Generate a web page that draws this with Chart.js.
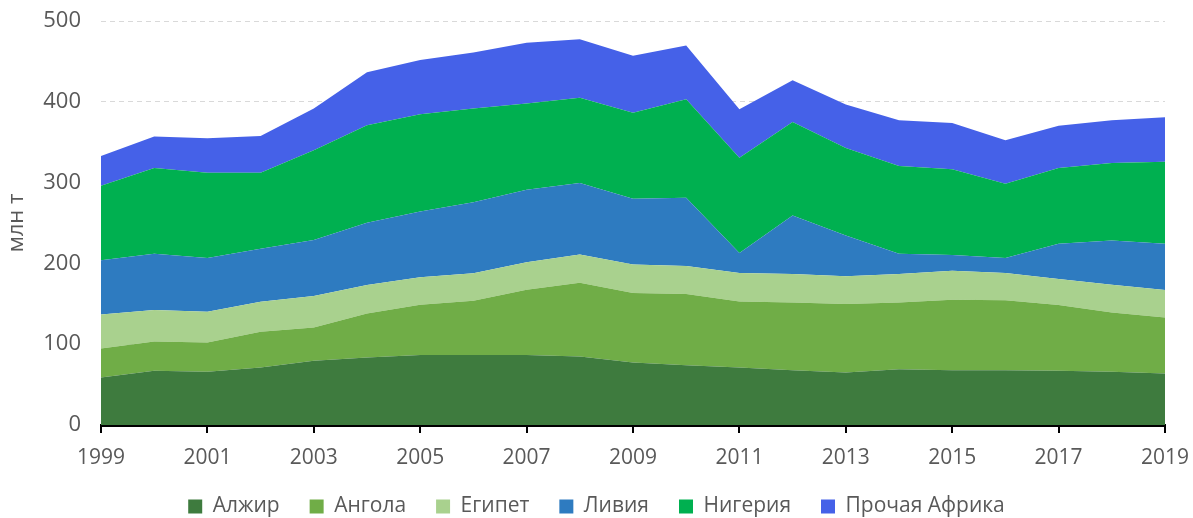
<!DOCTYPE html>
<html>
<head>
<meta charset="utf-8">
<script src="https://cdn.jsdelivr.net/npm/chart.js@4"></script>
<style>
  html, body { margin: 0; padding: 0; background: #fff; }
  #wrap { width: 1193px; height: 518px; }
</style>
</head>
<body>
<div id="wrap"><canvas id="chart" width="1193" height="518"></canvas></div>
<script>
const years = [1999, 2000, 2001, 2002, 2003, 2004, 2005, 2006, 2007, 2008, 2009,
  2010, 2011, 2012, 2013, 2014, 2015, 2016, 2017, 2018, 2019];

const seriesNames = ["Алжир", "Ангола", "Египет", "Ливия", "Нигерия", "Прочая Африка"];

const algeria = [58.7, 67, 65.8, 71.1, 79.4, 83.5, 86.5, 86.5, 86.5, 84.8, 77.3,
  74, 71.1, 67.9, 64.9, 69.1, 67.9, 67.9, 67, 65.8, 63.6];
const angola = [36, 36.4, 36.2, 44.3, 41.3, 54.5, 62.4, 67.3, 81, 91.4, 86.1,
  88.1, 81.9, 83.8, 84.8, 82.6, 87.2, 86.4, 81.5, 73.5, 69.5];
const egypt = [42.2, 38.9, 38.2, 37.2, 39, 35.3, 33.9, 33.9, 33.9, 34.7, 35.1,
  34.8, 35.2, 35.3, 34.3, 35.3, 35.9, 33.9, 32.3, 34.4, 34];
const libya = [67, 69.5, 66.6, 65.4, 69.3, 76.9, 81.5, 88.1, 89.8, 88.5, 81.5,
  84.4, 24.8, 72.3, 50.5, 24.8, 19.5, 18.6, 43.4, 54.6, 57.1];
const nigeria = [92.1, 106.2, 105.5, 94.3, 111, 120.8, 120.3, 115.9, 106.7, 105.5, 106.3,
  121.9, 117.9, 115.7, 108.3, 108.7, 105.9, 91.8, 93.8, 95.9, 101.7];
const otherAfrica = [37, 39, 42.5, 45.4, 51.7, 65.7, 67, 69.3, 75.1, 72.4, 70.7,
  66.6, 59.9, 51.8, 53.8, 56.7, 57.4, 53.8, 52.3, 53, 55.1];

const yTicks = { min: 0, max: 500, step: 100 };
const colors = ["#3E7B3E", "#70AD47", "#A9D18E", "#2E7BC0", "#00B050", "#4561E8"];
const textColor = "#595959";
const fontFamily = "'Open Sans', 'Noto Sans', sans-serif";

const allSeries = [algeria, angola, egypt, libya, nigeria, otherAfrica];

new Chart(document.getElementById("chart"), {
  type: "line",
  data: {
    datasets: allSeries.map((values, i) => ({
      label: seriesNames[i],
      data: values.map((v, j) => ({ x: years[j], y: v })),
      backgroundColor: colors[i],
      borderColor: colors[i],
      borderWidth: 0,
      pointRadius: 0,
      fill: i === 0 ? "origin" : "-1",
      tension: 0,
    })),
  },
  options: {
    responsive: false,
    animation: false,
    layout: { padding: { top: 21, right: 0, left: 0, bottom: -9 } },
    plugins: {
      legend: {
        position: "bottom",
        labels: {
          boxWidth: 14,
          boxHeight: 14,
          padding: 30,
          color: textColor,
          font: { family: fontFamily, size: 21 },
        },
      },
      tooltip: { enabled: false },
    },
    scales: {
      x: {
        type: "linear",
        min: years[0],
        max: years[years.length - 1],
        afterFit: (scale) => {
          scale.height = 41;
          scale.paddingRight = 28;
        },
        ticks: {
          stepSize: 2,
          color: textColor,
          padding: 12,
          font: { family: fontFamily, size: 21 },
          callback: (v) => String(v),
        },
        grid: {
          drawOnChartArea: false,
          drawTicks: true,
          tickLength: 8,
          color: "#000",
          lineWidth: 2,
        },
        border: { display: true, color: "#000", width: 3 },
      },
      y: {
        stacked: true,
        min: yTicks.min,
        max: yTicks.max,
        afterFit: (scale) => {
          scale.width = 101;
          scale.paddingTop = 0;
          scale.paddingBottom = 0;
        },
        ticks: {
          stepSize: yTicks.step,
          color: textColor,
          padding: 20,
          font: { family: fontFamily, size: 22 },
        },
        grid: {
          color: "#d9d9d9",
          lineWidth: 1,
          drawTicks: false,
        },
        border: { display: false, dash: [5, 4] },
        title: {
          display: true,
          text: "млн т",
          color: textColor,
          font: { family: fontFamily, size: 22 },
          padding: { top: 4, bottom: 0 },
        },
      },
    },
  },
});
</script>
</body>
</html>
